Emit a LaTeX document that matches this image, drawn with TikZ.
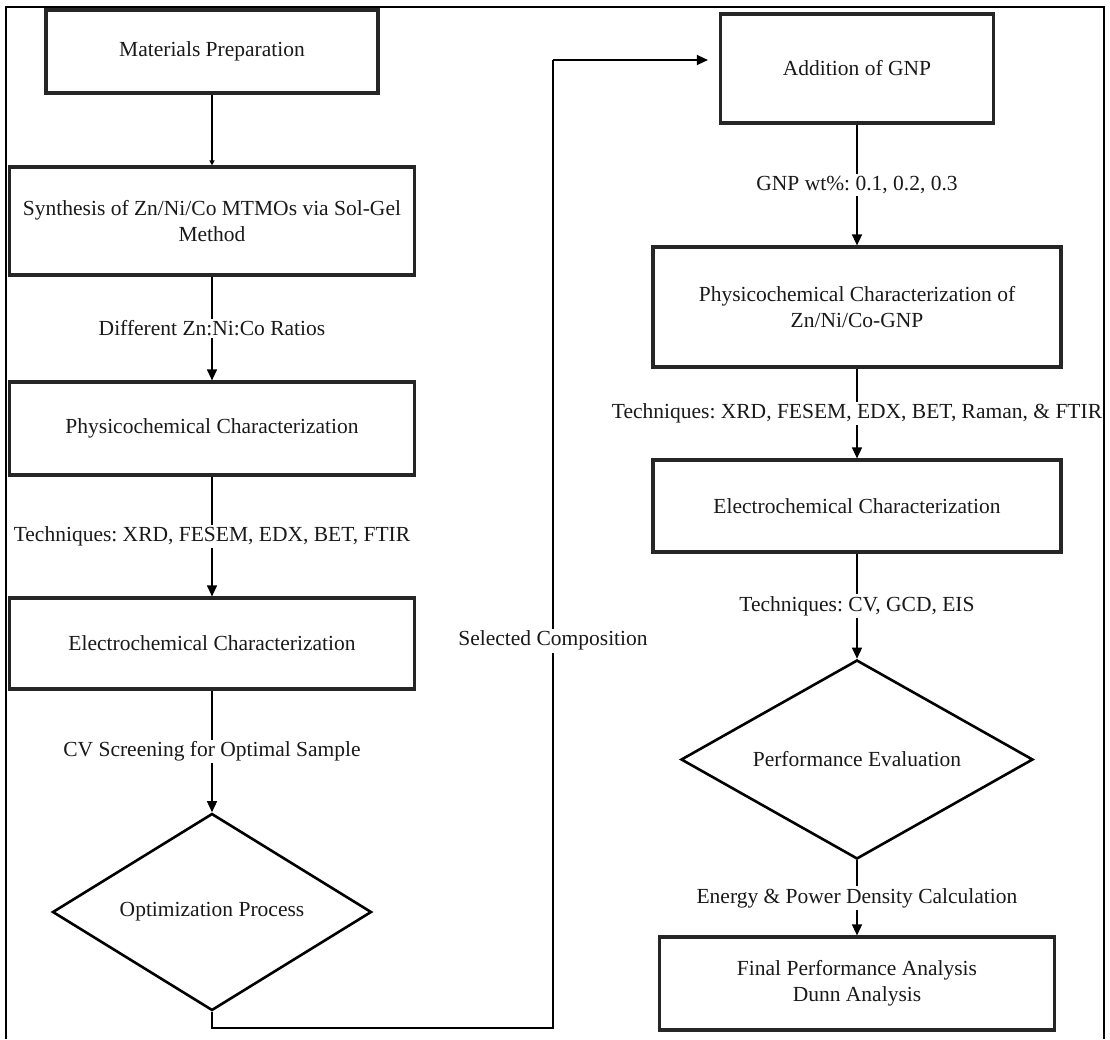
\documentclass[tikz,border=0pt]{standalone}
\usepackage{fontspec}
\setmainfont{Liberation Serif}
\usetikzlibrary{shapes.geometric,arrows.meta}
\definecolor{boxline}{rgb}{0.15,0.15,0.15}
\definecolor{txtgray}{rgb}{0.1,0.1,0.1}
\frenchspacing

\begin{document}
\begin{tikzpicture}[x=1pt,y=1pt,
    stage/.style={draw=boxline, line width=3.2pt, align=center, inner sep=0pt, text=txtgray, font=\fontsize{21.5}{26}\selectfont},
    decide/.style={diamond, draw=black, line width=2.6pt, aspect=1.6, inner sep=0pt, text=txtgray, font=\fontsize{21.5}{26}\selectfont},
    link/.style={draw=black, line width=1.4pt},
    arr/.style={link, -{Triangle[length=11pt,width=10pt]}},
    smallarr/.style={link, -{Triangle[length=5pt,width=5pt]}},
    tag/.style={fill=white, inner sep=2pt, text=txtgray, font=\fontsize{21.5}{26}\selectfont}]
    \useasboundingbox (0,0) rectangle (1110,-1039);

    %% Left column
    \node[stage, minimum width=332, minimum height=83] (prep) at (212,-51.5) {Materials Preparation};
    \node[stage, minimum width=405, minimum height=108] (synth) at (212,-221) {Synthesis of Zn/Ni/Co MTMOs via Sol-Gel\\Method};
    \node[stage, minimum width=405, minimum height=93] (physA) at (212,-428.5) {Physicochemical Characterization};
    \node[stage, minimum width=405, minimum height=91] (elecA) at (212,-643.5) {Electrochemical Characterization};
    \node[decide, minimum width=319, minimum height=197] (optim) at (212,-912) {Optimization Process};

    %% Right column
    \node[stage, minimum width=273, minimum height=109] (gnp) at (857,-68.5) {Addition of GNP};
    \node[stage, minimum width=408, minimum height=120] (physB) at (857,-307) {Physicochemical Characterization of\\Zn/Ni/Co-GNP};
    \node[stage, minimum width=408, minimum height=92] (elecB) at (857,-506) {Electrochemical Characterization};
    \node[decide, minimum width=352, minimum height=199] (perf) at (857,-759.5) {Performance Evaluation};
    \node[stage, minimum width=395, minimum height=93] (final) at (857,-983.5) {Final Performance Analysis\\Dunn Analysis};

    %% Left arrows
    \draw[smallarr] (prep) -- (synth);
    \draw[arr] (synth) -- node[tag] {Different Zn:Ni:Co Ratios} (physA);
    \draw[arr] (physA) -- node[tag] {Techniques: XRD, FESEM, EDX, BET, FTIR} (elecA);
    \draw[arr] (elecA) -- node[tag] {CV Screening for Optimal Sample} (optim);

    %% Link between the columns
    \coordinate (selbot) at (553,-1028);
    \coordinate (seltop) at (553,-60);
    \draw[link] (optim.south) |- (selbot) -- node[tag, pos=0.4] {Selected Composition} (seltop);
    \draw[arr, shorten >=11pt] (seltop) -- (seltop -| gnp.west);

    %% Right arrows
    \draw[arr] (gnp) -- node[tag] {GNP wt\%: 0.1, 0.2, 0.3} (physB);
    \draw[arr] (physB) -- node[tag] {Techniques: XRD, FESEM, EDX, BET, Raman, \& FTIR} (elecB);
    \draw[arr] (elecB) -- node[tag] {Techniques: CV, GCD, EIS} (perf);
    \draw[arr] (perf) -- node[tag] {Energy \& Power Density Calculation} (final);

    %% Outer frame
    \draw[line width=2.5pt] (6,-1039) -- (6,-7) -- (1104,-7) -- (1104,-1039);
\end{tikzpicture}
\end{document}
